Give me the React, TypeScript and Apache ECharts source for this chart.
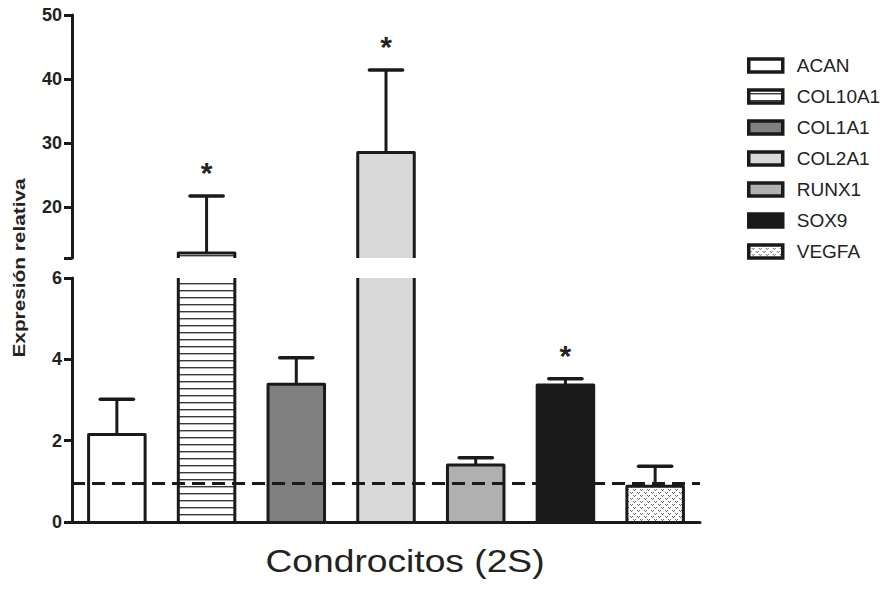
import React, { useEffect, useRef } from "react";
import * as echarts from "echarts";

const categories = ["ACAN", "COL10A1", "COL1A1", "COL2A1", "RUNX1", "SOX9", "VEGFA"];
const means = [2.15, 12.8, 3.39, 28.5, 1.4, 3.37, 0.88];
const errorTops = [3.02, 21.7, 4.04, 41.4, 1.58, 3.52, 1.37];
const significant = [0, 1, 0, 1, 0, 1, 0];
const referenceLevel = 0.95;
const lowerTicks = [0, 2, 4, 6];
const upperTicks = [20, 30, 40, 50];
const upperMin = 12;
const upperMax = 50;

const FONT = 'Arial, "Liberation Sans", sans-serif';
const INK = "#1a1a1a";
const BAR_FRAC = 0.63;

function stripePattern() {
  const c = document.createElement("canvas");
  c.width = 8;
  c.height = 7;
  const g = c.getContext("2d")!;
  g.fillStyle = "#ffffff";
  g.fillRect(0, 0, 8, 7);
  g.fillStyle = "#3a3a3a";
  g.fillRect(0, 3, 8, 1.4);
  return c;
}

function stipplePattern() {
  const c = document.createElement("canvas");
  c.width = 7;
  c.height = 6;
  const g = c.getContext("2d")!;
  g.fillStyle = "#ffffff";
  g.fillRect(0, 0, 7, 6);
  g.fillStyle = "#6a6a6a";
  g.fillRect(0, 0, 1, 1);
  g.fillRect(1, 1, 1, 1);
  g.fillRect(2, 0, 1, 1);
  g.fillRect(3, 3, 1, 1);
  g.fillRect(4, 4, 1, 1);
  g.fillRect(5, 3, 1, 1);
  return c;
}

export default function App() {
  const ref = useRef<HTMLDivElement>(null);
  useEffect(() => {
    const chart = echarts.init(ref.current!, undefined, { renderer: "svg" });
    const fills: any[] = [
      "#ffffff",
      { image: stripePattern(), repeat: "repeat" },
      "#808080",
      "#d9d9d9",
      "#b0b0b0",
      INK,
      { image: stipplePattern(), repeat: "repeat" },
    ];

    const barSeries: any[] = [];
    [0, 1].forEach((g) => {
      categories.forEach((name, i) => {
        barSeries.push({
          type: "bar",
          name,
          xAxisIndex: g,
          yAxisIndex: g,
          data: categories.map((_, j) => (j === i ? means[i] : "-")),
          barWidth: BAR_FRAC * 100 + "%",
          barGap: "-100%",
          clip: true,
          itemStyle: { color: fills[i], borderWidth: 0 },
        });
      });
    });

    const itemData = categories.map((_, i) => [i, means[i], errorTops[i], significant[i]]);
    const makeRender = (isLower: boolean) => (params: any, api: any) => {
      const cs = params.coordSys;
      const gTop = cs.y;
      const gBottom = cs.y + cs.height;
      const i = api.value(0);
      const topPt = api.coord([i, api.value(1)]);
      const endPt = api.coord([i, api.value(2)]);
      const cx = topPt[0];
      const bw = api.size([1, 0])[0] * BAR_FRAC;
      const cap = api.size([1, 0])[0] * 0.37;
      const l = cx - bw / 2;
      const r = cx + bw / 2;
      const children: any[] = [];
      const st = { stroke: INK, lineWidth: 3, fill: "none" };
      if (isLower) {
        const b = api.coord([i, 0])[1];
        if (topPt[1] >= gTop) {
          children.push({ type: "polyline", shape: { points: [[l, b], [l, topPt[1]], [r, topPt[1]], [r, b]] }, style: { ...st, lineJoin: "round" } });
        } else {
          children.push({ type: "line", shape: { x1: l, y1: b, x2: l, y2: gTop }, style: st });
          children.push({ type: "line", shape: { x1: r, y1: b, x2: r, y2: gTop }, style: st });
        }
      } else {
        if (topPt[1] > gBottom) return null;
        children.push({ type: "polyline", shape: { points: [[l, gBottom], [l, topPt[1]], [r, topPt[1]], [r, gBottom]] }, style: { ...st, lineJoin: "round" } });
      }
      const errVisible = isLower ? topPt[1] >= gTop : true;
      if (errVisible) {
        children.push({ type: "line", shape: { x1: cx, y1: topPt[1], x2: cx, y2: endPt[1] }, style: st });
        children.push({ type: "line", shape: { x1: cx - cap / 2, y1: endPt[1], x2: cx + cap / 2, y2: endPt[1] }, style: { ...st, lineWidth: 3.5, lineCap: "round" } });
        if (api.value(3)) {
          children.push({
            type: "text",
            x: cx,
            y: endPt[1] - 23,
            style: { text: "*", fontSize: 30, fontWeight: "bold", fontFamily: FONT, fill: "#222", align: "center", verticalAlign: "middle" },
          });
        }
      }
      return { type: "group", children };
    };

    const outlineSeries: any[] = [0, 1].map((g) => ({
      type: "custom",
      name: "outline" + g,
      xAxisIndex: g,
      yAxisIndex: g,
      clip: false,
      z: 4,
      data: itemData,
      encode: { x: 0, y: [1, 2] },
      renderItem: makeRender(g === 0),
      markLine:
        g === 0
          ? {
              silent: true,
              symbol: ["none", "none"],
              label: { show: false },
              lineStyle: { type: [13, 7], width: 3, color: INK },
              data: [{ yAxis: referenceLevel }],
            }
          : undefined,
    }));

    const yLabel = { fontSize: 18, fontWeight: "bold", color: "#222", fontFamily: FONT, margin: 10 };

    chart.setOption({
      animation: false,
      backgroundColor: "#ffffff",
      grid: [
        { left: 72, right: 195, top: 278, bottom: 68 },
        { left: 72, right: 195, top: 15, height: 243 },
      ],
      xAxis: [
        {
          type: "category",
          gridIndex: 0,
          data: categories,
          z: 5,
          axisLine: { lineStyle: { color: INK, width: 3 } },
          axisTick: { show: false },
          axisLabel: { show: false },
        },
        {
          type: "category",
          gridIndex: 1,
          data: categories,
          show: false,
        },
      ],
      yAxis: [
        {
          type: "value",
          gridIndex: 0,
          min: 0,
          max: 6,
          interval: 2,
          axisLine: { show: true, lineStyle: { color: INK, width: 3 } },
          axisTick: { show: true, length: 8, lineStyle: { color: INK, width: 3 } },
          axisLabel: { ...yLabel, customValues: lowerTicks },
          splitLine: { show: false },
        },
        {
          type: "value",
          gridIndex: 1,
          min: upperMin,
          max: upperMax,
          axisLine: { show: true, lineStyle: { color: INK, width: 3 } },
          axisTick: { show: true, length: 8, lineStyle: { color: INK, width: 3 }, customValues: [upperMin, ...upperTicks] },
          axisLabel: { ...yLabel, customValues: upperTicks },
          splitLine: { show: false },
        },
      ],
      legend: {
        data: categories,
        orient: "vertical",
        left: 747,
        top: 56,
        padding: 0,
        itemWidth: 34,
        itemHeight: 13,
        itemGap: 12,
        icon: "rect",
        itemStyle: { borderColor: INK, borderWidth: 3.5 },
        textStyle: { fontSize: 19, color: "#222", fontFamily: FONT, padding: [0, 0, 0, 9] },
        selectedMode: false,
      },
      graphic: [
        {
          type: "text",
          x: 19,
          y: 268,
          rotation: Math.PI / 2,
          scaleX: 1.3,
          style: { text: "Expresión relativa", fontSize: 16, fontWeight: "bold", fontFamily: FONT, fill: "#222", align: "center", verticalAlign: "middle" },
        },
        {
          type: "text",
          x: 405,
          y: 561,
          scaleX: 1.2,
          style: { text: "Condrocitos (2S)", fontSize: 31, fontFamily: FONT, fill: "#222", align: "center", verticalAlign: "middle" },
        },
      ],
      series: [...barSeries, ...outlineSeries],
    });
    return () => chart.dispose();
  }, []);
  return <div ref={ref} style={{ position: "absolute", left: 0, top: 0, width: 895, height: 590 }} />;
}
